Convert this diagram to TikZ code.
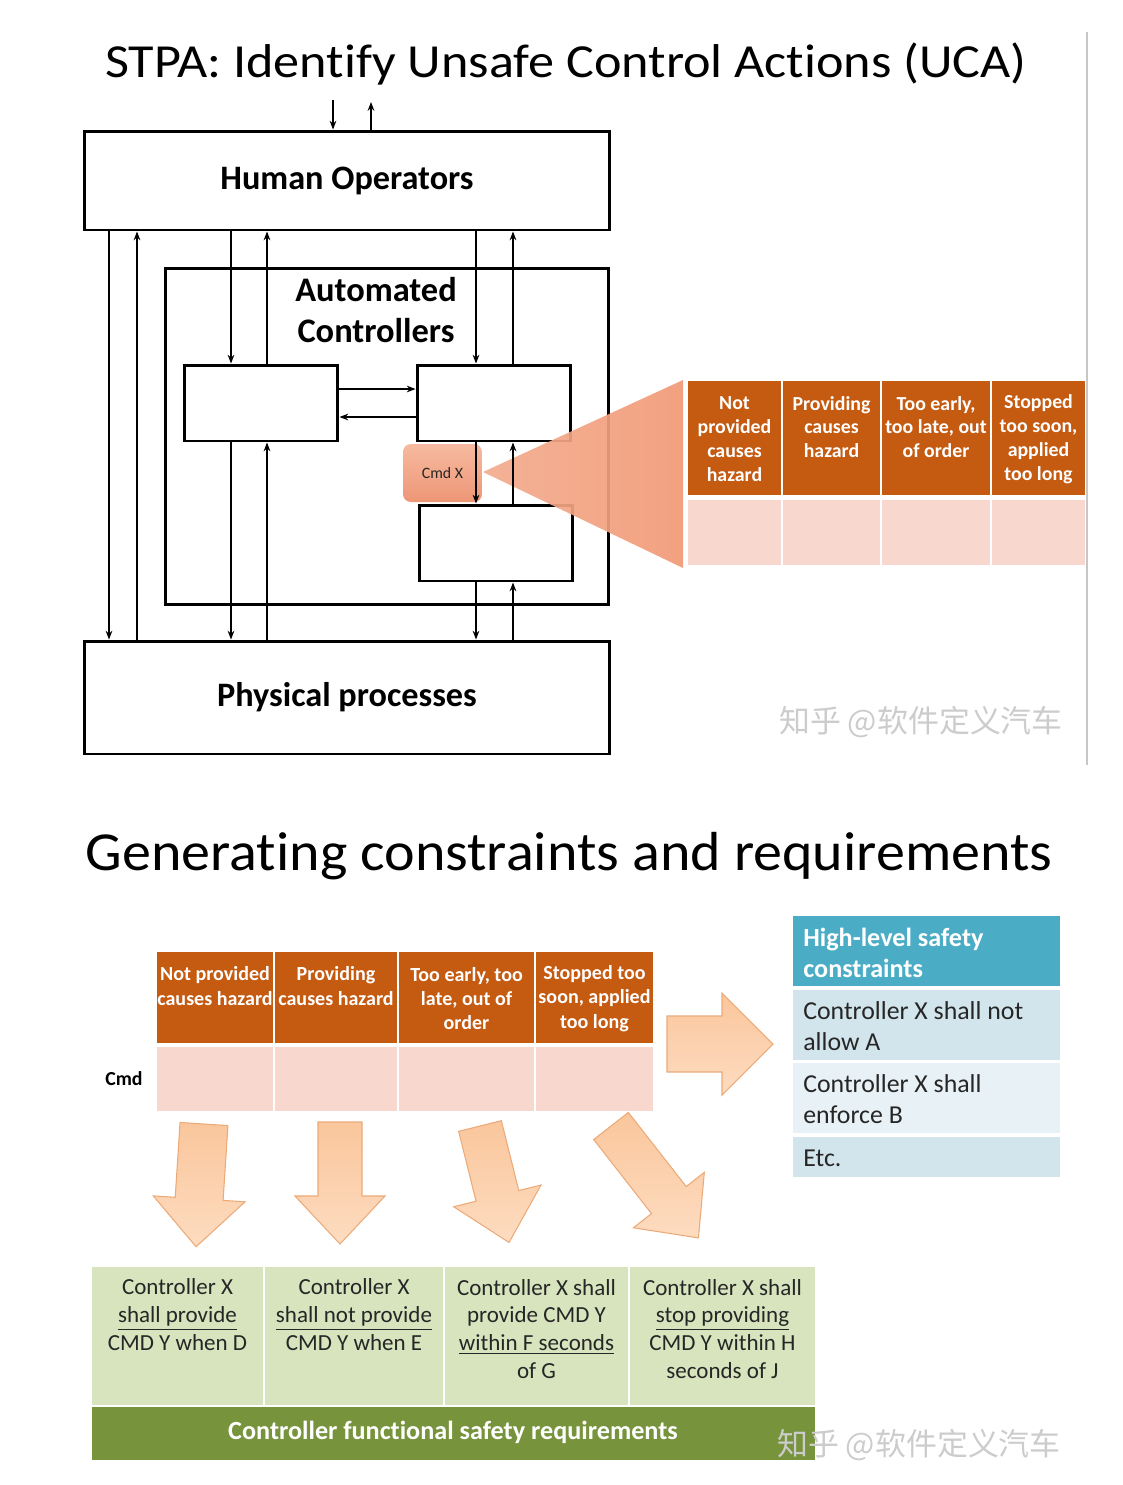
\documentclass[tikz,border=0pt]{standalone}
\usepackage{graphicx}
\usepackage{fontspec}
\setmainfont{Carlito}[Ligatures=NoCommon]
\newfontfamily\cjk{Noto Sans CJK SC}
\usetikzlibrary{arrows.meta}
\definecolor{ucaH}{RGB}{197,90,17}
\definecolor{ucaB}{RGB}{248,216,206}
\definecolor{triL}{RGB}{244,172,142}
\definecolor{triR}{RGB}{241,154,118}
\definecolor{cmdA}{RGB}{238,150,118}
\definecolor{cmdB}{RGB}{246,186,160}
\definecolor{peachA}{RGB}{250,198,156}
\definecolor{peachB}{RGB}{253,220,192}
\definecolor{peachE}{RGB}{236,170,120}
\definecolor{teal}{RGB}{75,172,198}
\definecolor{rowA}{RGB}{211,229,236}
\definecolor{rowB}{RGB}{232,241,245}
\definecolor{grnA}{RGB}{215,228,189}
\definecolor{grnB}{RGB}{119,147,60}
\definecolor{wm}{RGB}{204,204,204}
\begin{document}
\begin{tikzpicture}[x=0.02cm,y=-0.02cm,
  box/.style={draw, line width=1.7pt, inner sep=0pt},
  sbox/.style={box, minimum width=3.08cm, minimum height=1.52cm},
  arr/.style={-{Stealth[length=5pt,width=3.8pt]}, line width=0.75pt},
  boxlbl/.style={font=\bfseries\fontsize{19.5}{23}\selectfont},
  ucatop/.style={font=\bfseries\fontsize{11.3}{13.6}\selectfont, text=white, align=center, inner sep=0pt},
  ucabot/.style={font=\bfseries\fontsize{11.4}{13.9}\selectfont, text=white, align=center, inner sep=0pt},
  hlhead/.style={font=\bfseries\fontsize{14.9}{17.6}\selectfont, text=white, align=left, anchor=west, inner sep=0pt},
  hlrow/.style={font=\fontsize{14.7}{17.6}\selectfont, text=black!85, align=left, anchor=west, inner sep=0pt},
  grn/.style={font=\fontsize{13.1}{15.9}\selectfont, text=black!85, align=center, inner sep=0pt},
  wmark/.style={font=\cjk\fontsize{17.6}{20}\selectfont, text=wm, inner sep=0pt},
  pics/barrow/.style n args={4}{code={
    \shade[top color=peachA, bottom color=peachB, draw=peachE, line width=0.6pt]
      (0,-#2) -- (#1,-#2) -- (#1,-#3) -- (#1+#4,0) -- (#1,#3) -- (#1,#2) -- (0,#2) -- cycle;
  }}
]
\useasboundingbox (0,0) rectangle (1123,1485);
\fill[white] (0,0) rectangle (1123,1485);

% ---------- top part ----------
\node[font=\fontsize{27}{32}\selectfont] (title1) at (566,64) {\scalebox{1.1}[1]{STPA: Identify Unsafe Control Actions (UCA)}};
\draw[black!22, line width=1.6pt] (1087,32) -- (1087,765);

\node[box, minimum width=10.52cm, minimum height=1.98cm, boxlbl] (HO) at (347,180.5) {Human Operators};
\node[box, minimum width=8.88cm, minimum height=6.74cm] (AC) at (387,436.5) {};
\node[boxlbl, font=\bfseries\fontsize{19.6}{23.8}\selectfont, align=center] (AClbl) at (376,310) {Automated\\Controllers};
\node[sbox] (A) at (261,403) {};
\node[sbox] (B) at (494,403) {};
\node[sbox] (C) at (496,543) {};
\node[box, minimum width=10.52cm, minimum height=2.26cm, boxlbl] (PP) at (347,697.5) {Physical processes};

\coordinate (x109) at (109,0);
\coordinate (x137) at (137,0);
\coordinate (x231) at (231,0);
\coordinate (x267) at (267,0);
\coordinate (x476) at (476,0);
\coordinate (x513) at (513,0);
\coordinate (y389) at (0,389);
\coordinate (y417) at (0,417);
\coordinate (topin) at (333,100);
\coordinate (topout) at (371,102);

\draw[arr] (topin) -- (HO.north -| topin);
\draw[arr] (HO.north -| topout) -- (topout);

\draw[arr] (HO.south -| x109) -- (PP.north -| x109);
\draw[arr] (PP.north -| x137) -- (HO.south -| x137);
\draw[arr] (HO.south -| x231) -- (A.north -| x231);
\draw[arr] (A.north -| x267) -- (HO.south -| x267);
\draw[arr] (HO.south -| x476) -- (B.north -| x476);
\draw[arr] (B.north -| x513) -- (HO.south -| x513);
\draw[arr] (A.east |- y389) -- (B.west |- y389);
\draw[arr] (B.west |- y417) -- (A.east |- y417);
\draw[arr] (A.south -| x231) -- (PP.north -| x231);
\draw[arr] (PP.north -| x267) -- (A.south -| x267);
\draw[arr] (C.south -| x476) -- (PP.north -| x476);
\draw[arr] (PP.north -| x513) -- (C.south -| x513);

% zoom triangle
\shade[left color=triL, right color=triR, fill opacity=0.92] (483,472) -- (683,380) -- (683,568) -- cycle;

% Cmd X
\node[draw=none, top color=cmdB, bottom color=cmdA, rounded corners=4.5pt, minimum width=1.58cm, minimum height=1.16cm,
      font=\fontsize{9}{10}\selectfont, text=black!85, inner sep=0pt, anchor=center] (cmd) at (442.5,473) {Cmd X\hspace{1.1em}};
\draw[arr] (B.south -| x476) -- (C.north -| x476);
\draw[arr] (C.north -| x513) -- (B.south -| x513);

% top UCA table
\fill[ucaH] (688,381) rectangle (781,495);
\fill[ucaH] (783,381) rectangle (880,495);
\fill[ucaH] (882,381) rectangle (990,495);
\fill[ucaH] (992,381) rectangle (1085,495);
\fill[ucaB] (688,500) rectangle (781,565);
\fill[ucaB] (783,500) rectangle (880,565);
\fill[ucaB] (882,500) rectangle (990,565);
\fill[ucaB] (992,500) rectangle (1085,565);
\node[ucatop] (u1) at (734.5,439) {Not\\provided\\causes\\hazard};
\node[ucatop] (u2) at (831.5,427) {Providing\\causes\\hazard};
\node[ucatop] (u3) at (936,427) {Too early,\\too late, out\\of order};
\node[ucatop] (u4) at (1038.5,439) {Stopped\\too soon,\\applied\\too long};

\node[wmark] (wm1) at (921,722) {知乎 @软件定义汽车};

% ---------- bottom part ----------
\node[font=\fontsize{31.3}{36}\selectfont] (title2) at (569,856) {\scalebox{1.055}[1]{Generating constraints and requirements}};

\fill[ucaH] (157,952) rectangle (273,1043);
\fill[ucaH] (275,952) rectangle (397,1043);
\fill[ucaH] (399,952) rectangle (534,1043);
\fill[ucaH] (536,952) rectangle (653,1043);
\fill[ucaB] (157,1047) rectangle (273,1111);
\fill[ucaB] (275,1047) rectangle (397,1111);
\fill[ucaB] (399,1047) rectangle (534,1111);
\fill[ucaB] (536,1047) rectangle (653,1111);
\node[ucabot] (b1) at (215,986) {Not provided\\causes hazard};
\node[ucabot] (b2) at (336,986) {Providing\\causes hazard};
\node[ucabot] (b3) at (466.5,998.5) {Too early, too\\late, out of\\order};
\node[ucabot] (b4) at (594.5,998.5) {Stopped too\\soon, applied\\too long};
\node[font=\bfseries\fontsize{11.3}{13}\selectfont] (cmdlbl) at (124,1079) {Cmd};

% right arrow
\pic at (667,1044) {barrow={55}{28}{51}{51}};

% high-level safety constraints
\fill[teal] (793,916) rectangle (1060,986);
\fill[rowA] (793,990) rectangle (1060,1060);
\fill[rowB] (793,1063) rectangle (1060,1133);
\fill[rowA] (793,1137) rectangle (1060,1177);
\node[hlhead] (h0) at (803,953) {High-level safety\\constraints};
\node[hlrow] (h1) at (803,1026) {Controller X shall not\\allow A};
\node[hlrow] (h2) at (803,1099) {Controller X shall\\enforce B};
\node[hlrow] (h3) at (803,1158) {Etc.};

% down arrows
\pic[rotate=-93.7] at (204,1124) {barrow={75}{24}{46}{48}};
\pic[rotate=-90] at (340,1122) {barrow={74}{22}{45}{48}};
\pic[rotate=-76] at (480,1126) {barrow={72}{22}{45}{48}};
\pic[rotate=-52] at (611,1126) {barrow={94}{22}{45}{48}};

% functional safety requirements
\fill[grnA] (92,1267) rectangle (263,1405);
\fill[grnA] (265,1267) rectangle (443,1405);
\fill[grnA] (445,1267) rectangle (628,1405);
\fill[grnA] (630,1267) rectangle (815,1405);
\fill[grnB] (92,1407) rectangle (815,1460);
\node[grn] (g1) at (177.5,1315) {Controller X\\\underline{shall provide}\\CMD Y when D};
\node[grn] (g2) at (354,1315) {Controller X\\\underline{shall not provide}\\CMD Y when E};
\node[grn] (g3) at (536.5,1329) {Controller X shall\\provide CMD Y\\\underline{within F seconds}\\of G};
\node[grn] (g4) at (722.5,1329) {Controller X shall\\\underline{stop providing}\\CMD Y within H\\seconds of J};
\node[font=\bfseries\fontsize{14.9}{17}\selectfont, text=white] (gfoot) at (453,1432) {Controller functional safety requirements};

\node[wmark] (wm2) at (919,1445) {知乎 @软件定义汽车};
\end{tikzpicture}
\end{document}
